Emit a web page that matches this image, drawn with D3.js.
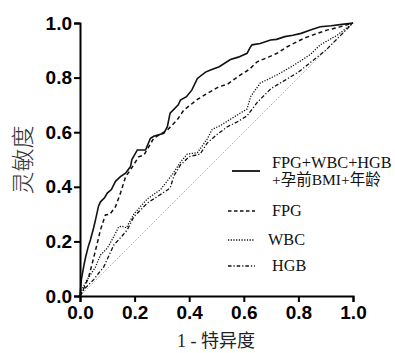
<!DOCTYPE html>
<html>
<head>
<meta charset="utf-8">
<script src="https://cdn.jsdelivr.net/npm/d3@7"></script>
<style>
  body { margin: 0; background: #fff; }
  svg { display: block; }
</style>
</head>
<body>
<div id="chart"></div>
<script>
// ROC curves: false positive rate (1 - specificity) vs sensitivity
const comboFpr = [0, .005, .014, .02, .03, .038, .05, .057, .068, .075, .09, .1, .115, .13, .148, .167, .185, .19, .21, .24, .258, .27, .307, .32, .33, .36, .368, .39, .41, .43, .46, .478, .51, .551, .58, .612, .623, .63, .66, .698, .72, .75, .78, .81, .844, .88, .92, .96, 1];
const comboTpr = [0, .06, .11, .14, .18, .205, .25, .28, .33, .345, .36, .377, .39, .42, .437, .45, .474, .5, .535, .535, .578, .585, .596, .62, .67, .70, .718, .73, .755, .797, .82, .828, .84, .866, .875, .889, .91, .92, .925, .938, .94, .95, .955, .962, .974, .986, .99, .995, 1];

const fpgFpr = [0, .015, .032, .045, .057, .075, .093, .11, .13, .148, .167, .185, .215, .234, .27, .32, .356, .38, .43, .466, .51, .539, .588, .62, .649, .69, .722, .759, .82, .869, .905, .95, 1];
const fpgTpr = [0, .03, .07, .12, .168, .242, .297, .30, .327, .376, .437, .462, .51, .516, .578, .608, .645, .681, .72, .742, .767, .775, .81, .83, .858, .875, .889, .913, .944, .962, .974, .985, 1];

const wbcFpr = [0, .01, .026, .057, .075, .1, .125, .142, .155, .17, .197, .246, .295, .338, .368, .393, .43, .466, .484, .515, .563, .612, .625, .66, .722, .783, .844, .88, .942, 1];
const wbcTpr = [0, .03, .059, .107, .15, .175, .22, .254, .255, .25, .3, .355, .39, .445, .49, .52, .525, .575, .61, .625, .655, .685, .73, .78, .81, .845, .885, .92, .955, 1];

const hgbFpr = [0, .02, .05, .087, .124, .15, .173, .197, .246, .283, .33, .344, .368, .4, .44, .466, .5, .54, .58, .612, .65, .7, .75, .8, .85, .9, .95, 1];
const hgbTpr = [0, .03, .06, .107, .187, .215, .242, .29, .34, .364, .395, .44, .48, .51, .52, .56, .59, .62, .64, .66, .71, .76, .79, .82, .86, .9, .95, 1];

const tickVals = [0, 0.2, 0.4, 0.6, 0.8, 1.0];
const legendLabels = [["FPG+WBC+HGB", "+孕前BMI+年龄"], ["FPG"], ["WBC"], ["HGB"]];

const width = 395;
const height = 353;
const margin = {top: 23, right: 42, bottom: 57, left: 80};

const svg = d3.select('#chart')
  .append('svg')
  .attr('width', width)
  .attr('height', height);

const x = d3.scaleLinear()
  .domain([0, 1])
  .range([margin.left, width - margin.right]);

const y = d3.scaleLinear()
  .domain([0, 1])
  .range([height - margin.bottom, margin.top]);

const line = d3.line()
  .x(d => x(d[0]))
  .y(d => y(d[1]));

// reference diagonal
svg.append('path')
  .datum([[0, 0], [1, 1]])
  .attr('d', line)
  .attr('fill', 'none')
  .attr('stroke', '#9a9a9a')
  .attr('stroke-width', 1)
  .attr('stroke-dasharray', '1,1.5');

const series = [
  {fpr: hgbFpr, tpr: hgbTpr, dash: '4,2,1.2,2', w: 1.3},
  {fpr: wbcFpr, tpr: wbcTpr, dash: '1.2,1.5', w: 1.3},
  {fpr: fpgFpr, tpr: fpgTpr, dash: '4,3', w: 1.5},
  {fpr: comboFpr, tpr: comboTpr, dash: null, w: 1.6}
];

series.forEach(s => {
  svg.append('path')
    .datum(s.fpr.map((f, i) => [f, s.tpr[i]]))
    .attr('d', line)
    .attr('fill', 'none')
    .attr('stroke', '#111')
    .attr('stroke-width', s.w)
    .attr('stroke-dasharray', s.dash);
});

// axes
const xAxis = svg.append('g')
  .attr('transform', `translate(0,${y(0)})`)
  .call(d3.axisBottom(x).tickValues(tickVals).tickFormat(d3.format('.1f')).tickSizeOuter(0).tickSize(6).tickPadding(4));

const yAxis = svg.append('g')
  .attr('transform', `translate(${x(0)},0)`)
  .call(d3.axisLeft(y).tickValues(tickVals).tickFormat(d3.format('.1f')).tickSizeOuter(0).tickSize(6).tickPadding(2));

[xAxis, yAxis].forEach(g => {
  g.select('.domain').attr('stroke', '#000').attr('stroke-width', 2);
  g.selectAll('.tick line').attr('stroke', '#000').attr('stroke-width', 2);
  g.selectAll('.tick text')
    .attr('fill', '#000')
    .style('font-family', 'Liberation Sans, Arial, sans-serif')
    .style('font-weight', 'bold')
    .style('font-size', '19px');
});

// axis titles
svg.append('text')
  .attr('x', 216)
  .attr('y', 347)
  .attr('text-anchor', 'middle')
  .style('font-family', 'Liberation Serif, Noto Sans CJK SC, serif')
  .style('font-size', '18px')
  .attr('fill', '#222')
  .text('1 - 特异度');

svg.append('text')
  .attr('transform', 'translate(31,160) rotate(-90)')
  .attr('text-anchor', 'middle')
  .style('font-family', 'Noto Sans CJK SC, sans-serif')
  .style('font-size', '23px')
  .style('font-weight', '300')
  .attr('fill', '#333')
  .text('灵敏度');

// legend
const legendY = [171, 211, 240, 266];
const legendDash = [null, '3.5,2.5', '1.2,1.5', '3.5,2,1.2,2'];
const legendG = svg.append('g');

legendLabels.forEach((lab, i) => {
  legendG.append('line')
    .attr('x1', i === 0 ? 232 : 228)
    .attr('x2', i === 0 ? 260 : 255)
    .attr('y1', legendY[i])
    .attr('y2', legendY[i])
    .attr('stroke', '#111')
    .attr('stroke-width', i === 0 ? 1.8 : 1.3)
    .attr('stroke-dasharray', legendDash[i]);
  lab.forEach((t, j) => {
    legendG.append('text')
      .attr('x', i === 2 ? 268 : 272)
      .attr('y', (i === 0 ? 168 : legendY[i] + 5) + j * 17)
      .style('font-family', 'Liberation Serif, Noto Sans CJK SC, serif')
      .style('font-size', j === 1 ? '15.5px' : '16.3px')
      .attr('fill', '#111')
      .text(t);
  });
});
</script>
</body>
</html>
